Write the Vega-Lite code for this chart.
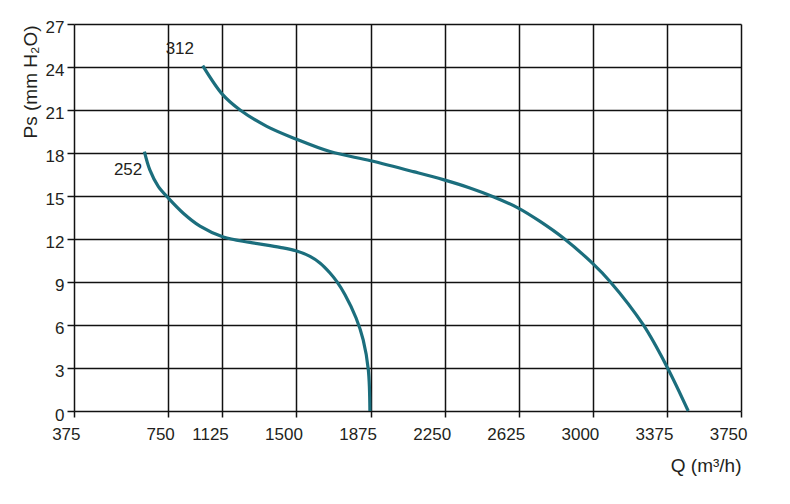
{
  "$schema": "https://vega.github.io/schema/vega-lite/v6.json",
  "autosize": "none",
  "width": 667,
  "height": 387,
  "padding": {"left": 74, "top": 24, "right": 49, "bottom": 93},
  "background": "white",
  "view": {"stroke": null},
  "config": {
    "font": "Liberation Sans, Arial, sans-serif",
    "axis": {
      "labelFont": "Liberation Sans, Arial, sans-serif",
      "titleFont": "Liberation Sans, Arial, sans-serif",
      "labelFontSize": 17,
      "titleFontSize": 19,
      "titleFontWeight": "normal",
      "labelColor": "#231f20",
      "titleColor": "#231f20",
      "gridColor": "#111111",
      "gridWidth": 1.5,
      "gridOpacity": 1,
      "tickColor": "#111111",
      "tickWidth": 1.5,
      "domain": false
    }
  },
  "datasets": {
    "curves": [
      {"series": "252", "Q": 655, "Ps": 18.1},
      {"series": "252", "Q": 677, "Ps": 16.8},
      {"series": "252", "Q": 710, "Ps": 15.67},
      {"series": "252", "Q": 750, "Ps": 14.86},
      {"series": "252", "Q": 854, "Ps": 13.8},
      {"series": "252", "Q": 970, "Ps": 12.9},
      {"series": "252", "Q": 1130, "Ps": 12.14},
      {"series": "252", "Q": 1265, "Ps": 11.76},
      {"series": "252", "Q": 1417, "Ps": 11.42},
      {"series": "252", "Q": 1497, "Ps": 11.18},
      {"series": "252", "Q": 1569, "Ps": 10.79},
      {"series": "252", "Q": 1619, "Ps": 10.33},
      {"series": "252", "Q": 1670, "Ps": 9.63},
      {"series": "252", "Q": 1704, "Ps": 9.04},
      {"series": "252", "Q": 1746, "Ps": 8.11},
      {"series": "252", "Q": 1802, "Ps": 6.49},
      {"series": "252", "Q": 1838, "Ps": 4.97},
      {"series": "252", "Q": 1864, "Ps": 2.88},
      {"series": "252", "Q": 1872, "Ps": 0},
      {"series": "312", "Q": 989, "Ps": 24.1},
      {"series": "312", "Q": 1127, "Ps": 22.07},
      {"series": "312", "Q": 1215, "Ps": 21.0},
      {"series": "312", "Q": 1350, "Ps": 19.86},
      {"series": "312", "Q": 1497, "Ps": 18.98},
      {"series": "312", "Q": 1670, "Ps": 18.1},
      {"series": "312", "Q": 1876, "Ps": 17.46},
      {"series": "312", "Q": 2092, "Ps": 16.7},
      {"series": "312", "Q": 2243, "Ps": 16.14},
      {"series": "312", "Q": 2378, "Ps": 15.56},
      {"series": "312", "Q": 2496, "Ps": 14.95},
      {"series": "312", "Q": 2623, "Ps": 14.16},
      {"series": "312", "Q": 2733, "Ps": 13.23},
      {"series": "312", "Q": 2851, "Ps": 12.07},
      {"series": "312", "Q": 2999, "Ps": 10.3},
      {"series": "312", "Q": 3087, "Ps": 9.04},
      {"series": "312", "Q": 3255, "Ps": 6.02},
      {"series": "312", "Q": 3377, "Ps": 3.04},
      {"series": "312", "Q": 3483, "Ps": 0}
    ],
    "labels": [
      {"series": "312", "Q": 830, "Ps": 25.28},
      {"series": "252", "Q": 590, "Ps": 16.84}
    ]
  },
  "layer": [
    {
      "data": {"name": "curves"},
      "mark": {"type": "line", "interpolate": "catmull-rom", "color": "#1b6e7d", "strokeWidth": 3.2, "strokeCap": "butt"},
      "encoding": {
        "x": {
          "field": "Q", "type": "quantitative",
          "scale": {"domain": [375, 750, 1125, 3750], "range": [0, 94.3, 148.3, 667], "zero": false, "nice": false},
          "axis": {
            "values": [375, 750, 1125, 1500, 1875, 2250, 2625, 3000, 3375, 3750],
            "format": "d",
            "title": "Q (m³/h)",
            "grid": true,
            "tickSize": 6,
            "labelPadding": 9,
            "labelAlign": "right",
            "labelOffset": 6,
            "labelFlush": false,
            "titleAnchor": "end",
            "titleAlign": "right",
            "titleBaseline": "middle",
            "titleX": 667,
            "titleY": 54
          }
        },
        "y": {
          "field": "Ps", "type": "quantitative",
          "scale": {"domain": [0, 27], "zero": true, "nice": false},
          "axis": {
            "values": [0, 3, 6, 9, 12, 15, 18, 21, 24, 27],
            "format": "d",
            "title": "Ps (mm H₂O)",
            "grid": true,
            "tickSize": 7,
            "labelPadding": 3,
            "labelOffset": {"expr": "datum.value == 0 ? 4 : 3"},
            "labelFlush": false,
            "titleAngle": -90,
            "titleAlign": "right",
            "titleBaseline": "middle",
            "titleX": -44,
            "titleY": 1
          }
        },
        "detail": {"field": "series", "type": "nominal"}
      }
    },
    {
      "data": {"name": "labels"},
      "mark": {"type": "text", "fontSize": 17, "color": "#231f20", "align": "center", "baseline": "middle"},
      "encoding": {
        "x": {"field": "Q", "type": "quantitative"},
        "y": {"field": "Ps", "type": "quantitative"},
        "text": {"field": "series", "type": "nominal"}
      }
    }
  ]
}
